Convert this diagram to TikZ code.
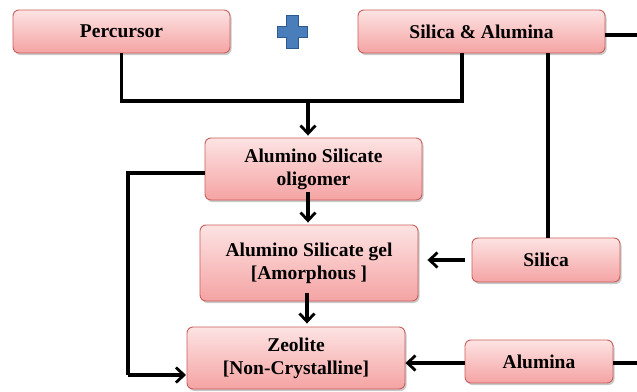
\documentclass[tikz,border=0pt]{standalone}
\usepackage{fontspec}
\setmainfont{Liberation Serif}
\usetikzlibrary{arrows.meta,shadows}
\definecolor{boxtop}{HTML}{FDE3E3}
\definecolor{boxbot}{HTML}{F5A3A3}
\definecolor{boxline}{HTML}{C9605C}
\definecolor{plusfill}{HTML}{4A7EBB}
\definecolor{plusline}{HTML}{2C5A91}
\begin{document}
\begin{tikzpicture}[x=1pt,y=-1pt,
  boxnode/.style={draw=boxline,line width=0.9pt,rounded corners=6pt,
    top color=boxtop,bottom color=boxbot,align=center,
    font=\fontsize{19.5}{23}\selectfont\bfseries,
    drop shadow={shadow xshift=1.5pt,shadow yshift=-2pt,opacity=0.35,fill=black!60},
    inner sep=0pt},
  conn/.style={line width=3.2pt,black},
  arr/.style={conn,-{Straight Barb[length=8pt,width=15pt,line width=2.8pt]}}]
\useasboundingbox (0,0) rectangle (637,391);
\fill[white] (0,0) rectangle (637,391);

\node[boxnode,minimum width=217pt,minimum height=43pt] (P) at (121.5,31.5) {Percursor};
\node[boxnode,minimum width=247pt,minimum height=43pt] (SA) at (481.5,31.5) {Silica \& Alumina};
\node[boxnode,minimum width=217pt,minimum height=62pt] (O) at (313.5,169) {Alumino Silicate\\oligomer};
\node[boxnode,minimum width=218pt,minimum height=76pt] (G) at (309,263) {Alumino Silicate gel\\{[}Amorphous ]};
\node[boxnode,minimum width=218pt,minimum height=62pt] (Z) at (296,358) {Zeolite\\{[}Non-Crystalline]};
\node[boxnode,minimum width=148pt,minimum height=44pt] (S) at (546,260) {Silica};
\node[boxnode,minimum width=148pt,minimum height=43pt] (A) at (539,361.5) {Alumina};

% plus sign
\filldraw[fill=plusfill,draw=plusline,line width=0.8pt]
  (286,15) -- (298,15) -- (298,26) -- (307,26) -- (307,37) -- (298,37) -- (298,48)
  -- (286,48) -- (286,37) -- (277,37) -- (277,26) -- (286,26) -- cycle;

% helper coordinates
\coordinate (j) at (308,101);
\coordinate (pj) at (462,101);
\coordinate (saj) at (462,53);
\coordinate (sae) at (605,35);
\coordinate (sae2) at (637,35);
\coordinate (ol) at (205,173);
\coordinate (lc) at (128,173);
\coordinate (lz) at (128,375);
\coordinate (zl) at (186,375);
\coordinate (ae) at (637,363);

\draw[conn] (P.south) |- (pj) -- (saj);
\draw[arr] (j) -- ([yshift=2pt]j |- O.north);
\draw[conn] ([xshift=2pt]S.north |- SA.south) -- ([xshift=2pt]S.north);
\draw[conn] (sae) -- (sae2);
\draw[arr] ([xshift=-5.5pt,yshift=8pt]O.south) -- ([xshift=-5.5pt,yshift=2pt]O.south |- G.north);
\draw[arr] ([xshift=-2pt,yshift=8pt]G.south) -- ([xshift=-2pt,yshift=3pt]G.south |- Z.north);
\draw[conn] (ol) -- (lc) -- (lz);
\draw[arr] (lz) -- (zl);
\draw[arr] ([xshift=-7pt]S.west) -- ([xshift=9pt]S.west -| G.east);
\draw[arr] ([yshift=-1.5pt]A.west) -- ([yshift=-1.5pt]A.west -| Z.east);
\draw[conn] ([yshift=-1.5pt]A.east) -- ([yshift=-1.5pt]A.east -| ae);
\end{tikzpicture}
\end{document}
